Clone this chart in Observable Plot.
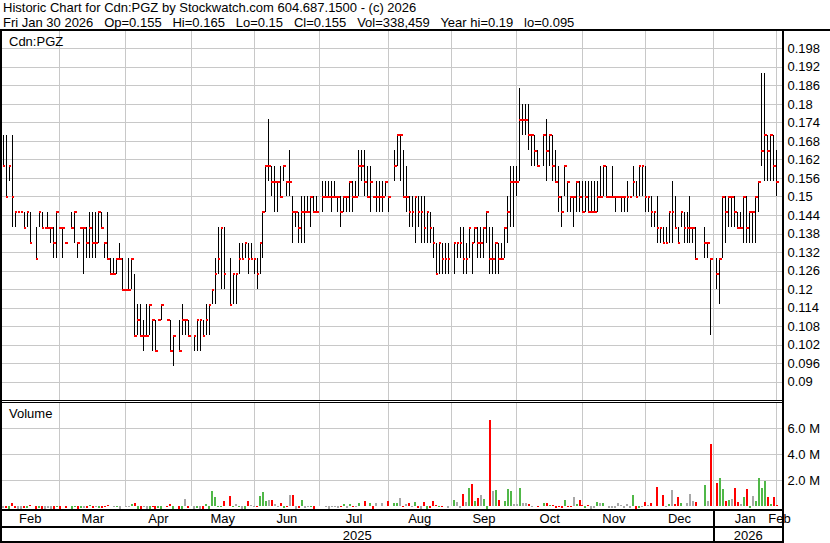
<!DOCTYPE html>
<html><head><meta charset="utf-8">
<script src="https://cdn.jsdelivr.net/npm/d3@7"></script>
<script src="https://cdn.jsdelivr.net/npm/@observablehq/plot@0.6"></script>
<style>
body{margin:0;background:#fff;}
#chart{position:relative;width:830px;height:543px;overflow:hidden;font-family:"Liberation Sans",Arial,sans-serif;color:#000;background:#fff;}
.t{position:absolute;font-size:13px;white-space:pre;line-height:15px;}
.ln{position:absolute;background:#000;}
#chart svg{position:absolute;left:0;}
</style></head><body><div id="chart"></div>
<script>
// One slot per weekday, Mon Feb 3 2025 .. Fri Jan 30 2026 (260 slots); null = holiday / no trade
const high = [
.17,.17,.16,.17,.145,.145,.145,.145,.145,.145,
null,.14,.145,.145,.14,.145,.14,.14,.145,.14,
.14,.135,null,.145,.145,.135,.14,.14,.14,.145,
.145,.145,.145,.145,.135,.145,.13,.13,.13,.135,
.13,.12,.13,.13,.125,.115,.115,.11,.115,.115,
.11,.11,.11,.115,null,.11,.11,.105,null,.11,
.115,.11,.11,null,.105,.11,.11,.11,.115,.115,
.12,.13,.14,.14,.14,null,.13,.125,.125,.135,
.135,.135,.135,.135,.13,.13,.135,.145,.16,.175,
.16,.16,.155,.16,.16,.155,.165,.15,.145,.145,
.15,.15,.15,.15,.15,.15,null,.155,.155,.155,
.155,.155,.15,.15,.15,.15,.155,.155,.155,.165,
.165,.165,.16,.16,.15,.155,.155,.155,.155,.15,
null,.165,.17,.17,.165,.16,.15,.15,.15,.15,
.15,.15,.145,.145,.14,.135,.135,.135,.135,.135,
null,.135,.135,.14,.14,.135,.14,.135,.14,.14,
.14,.14,.145,.14,.14,.135,.135,.135,.14,.15,
.16,.16,.16,.185,.18,.18,.18,.17,.17,.165,
null,.17,.175,.17,.17,.165,.16,.15,.16,.155,
.15,.15,.155,.155,.155,.155,.155,.155,.155,.155,
.16,.16,.16,.15,.16,.15,.15,.15,.15,.155,
.15,.16,.155,.16,.16,.16,.15,.15,.145,.15,
.14,.14,.14,.145,.155,.15,.14,.145,.145,.145,
.15,.14,.14,null,null,.14,.135,.13,null,.13,
.13,.15,.15,.15,.15,.15,.145,.145,.15,.15,
.145,.145,.15,.155,.19,.19,.17,.17,.17,.165];
const low = [
.16,.15,.155,.14,.14,.145,.145,.14,.14,.135,
null,.13,.14,.14,.14,.14,.135,.13,.13,.14,
.13,.135,null,.14,.135,.13,.14,.125,.13,.13,
.13,.13,.135,.14,.13,.13,.125,.125,.125,.13,
.12,.12,.12,.12,.105,.105,.105,.1,.105,.105,
.1,.1,.11,.11,null,.11,.1,.095,null,.1,
.105,.105,.105,null,.1,.1,.1,.105,.105,.105,
.115,.115,.125,.12,.12,null,.115,.115,.115,.125,
.13,.13,.125,.13,.125,.12,.125,.13,.145,.155,
.15,.145,.145,.15,.155,.15,.15,.135,.14,.135,
.135,.135,.145,.14,.145,.145,null,.145,.15,.15,
.145,.15,.145,.14,.145,.145,.145,.145,.15,.15,
.155,.15,.15,.145,.15,.145,.145,.145,.15,.145,
null,.155,.16,.155,.15,.145,.14,.14,.135,.14,
.135,.135,.135,.135,.13,.125,.125,.125,.125,.125,
null,.125,.13,.13,.125,.125,.13,.125,.135,.13,
.13,.13,.135,.125,.125,.125,.125,.13,.13,.135,
.14,.14,.15,.155,.17,.17,.165,.16,.16,.16,
null,.16,.155,.16,.155,.155,.145,.14,.15,.145,
.145,.14,.145,.145,.145,.145,.145,.145,.145,.145,
.15,.15,.15,.15,.15,.145,.15,.145,.145,.145,
.15,.15,.15,.15,.15,.145,.145,.14,.14,.135,
.135,.135,.135,.135,.135,.14,.135,.14,.135,.135,
.135,.135,.13,null,null,.13,.13,.105,null,.12,
.115,.13,.135,.14,.14,.14,.14,.14,.135,.135,
.135,.135,.135,.145,.16,.155,.155,.155,.155,.15];
const close = [
.16,.15,.16,.15,.145,.145,.145,.14,.145,.135,
null,.13,.145,.14,.14,.14,.14,.135,.145,.14,
.14,.135,null,.14,.145,.135,.14,.14,.135,.14,
.135,.135,.145,.14,.135,.13,.125,.125,.13,.13,
.12,.12,.12,.13,.105,.11,.105,.105,.105,.115,
.11,.1,.11,.115,null,.11,.1,.105,null,.1,
.11,.11,.105,null,.105,.11,.11,.105,.11,.115,
.12,.125,.13,.14,.125,null,.115,.125,.125,.13,
.13,.135,.13,.13,.13,.125,.135,.145,.16,.16,
.155,.155,.155,.15,.16,.155,.155,.145,.145,.14,
.145,.145,.145,.15,.145,.145,null,.15,.15,.15,
.15,.15,.15,.145,.15,.15,.155,.15,.15,.16,
.16,.155,.15,.155,.15,.15,.15,.15,.155,.15,
null,.16,.17,.17,.15,.15,.145,.145,.15,.145,
.145,.14,.145,.14,.135,.125,.135,.13,.13,.13,
null,.135,.135,.135,.13,.13,.14,.135,.14,.135,
.135,.14,.145,.13,.13,.135,.13,.13,.14,.145,
.155,.155,.155,.175,.175,.175,.17,.17,.165,.16,
null,.17,.165,.17,.16,.155,.15,.145,.16,.155,
.15,.15,.155,.15,.145,.15,.145,.145,.145,.15,
.15,.16,.15,.15,.15,.15,.15,.15,.15,.15,
.15,.155,.15,.16,.16,.15,.15,.145,.145,.14,
.14,.135,.135,.145,.145,.14,.135,.145,.14,.14,
.14,.14,.13,null,null,.135,.135,.13,null,.125,
.13,.15,.145,.15,.15,.145,.14,.14,.15,.14,
.145,.145,.15,.155,.165,.17,.165,.17,.16,.155];
// volume in thousands of shares
const volume = [
100,110,60,480,110,50,60,70,80,360,
null,40,70,50,50,80,60,60,150,60,
220,80,null,60,210,60,100,90,110,350,
100,160,80,100,210,320,260,200,160,60,
260,160,210,380,470,60,30,200,60,50,
200,60,110,30,null,200,400,60,null,60,
60,800,110,null,30,130,60,60,370,60,
1400,950,200,200,600,null,1050,200,400,200,
30,60,650,350,200,200,1050,1350,650,750,
750,380,200,480,100,200,1100,1100,60,100,
700,100,200,150,50,270,null,270,200,60,
200,200,100,200,400,100,400,200,200,500,
270,650,270,500,30,500,270,500,270,650,
null,500,500,870,200,400,500,200,570,100,
30,570,60,100,650,350,200,200,270,100,
null,720,570,100,1200,570,1650,1950,650,870,
1100,800,60,6900,1420,1500,720,270,650,1570,
1420,400,400,1650,500,500,400,200,270,200,
null,500,500,350,350,100,200,100,720,200,
200,950,400,720,350,100,350,30,100,570,
500,500,270,100,100,100,500,350,100,400,
100,1100,40,100,200,570,350,500,270,1720,
270,1100,200,400,1500,400,950,500,270,500,
1200,650,570,null,null,1900,650,5050,null,2000,
2400,1570,650,720,800,1650,570,400,950,1570,
100,1050,650,2400,1650,2200,950,400,950,338];

const priceTicks = [0.09,0.096,0.102,0.108,0.114,0.12,0.126,0.132,0.138,0.144,0.15,0.156,0.162,0.168,0.174,0.18,0.186,0.192,0.198];
const volumeTicks = [2e6, 4e6, 6e6];
const monthNames = ["Feb","Mar","Apr","May","Jun","Jul","Aug","Sep","Oct","Nov","Dec","Jan","Feb"];
const monthStarts = [19, 41, 63, 84, 106, 129, 150, 172, 194, 215, 238, 259]; // weekday slot of each month boundary
const yearNames = ["2025","2026"];
const yearStarts = [238];
const headerLine1 = "Historic Chart for Cdn:PGZ by Stockwatch.com 604.687.1500 - (c) 2026";
const headerLine2 = "Fri Jan 30 2026   Op=0.155   Hi=0.165   Lo=0.15   Cl=0.155   Vol=338,459   Year hi=0.19   lo=0.095";
const symbol = "Cdn:PGZ";

const FONT = '"Liberation Sans", Arial, sans-serif';
const GRID = "#c8c8c8";
const UP = "#50b848", DOWN = "#ff0000", FLAT = "#a8a8a8";
const xDomain = [-0.904, 260.98];

const rows = [];
let prev = null;
for (let k = 0; k < high.length; k++) {
  if (high[k] == null) continue;
  const c = close[k];
  const d = prev == null ? 0 : Math.sign(Math.round((c - prev) * 1000));
  rows.push({k, high: high[k], low: low[k], close: c, vol: volume[k] * 1000,
             color: d > 0 ? UP : d < 0 ? DOWN : FLAT});
  prev = c;
}
const bounds = [xDomain[0], ...monthStarts, xDomain[1]];
const monthLabels = monthNames.map((m, i) => ({label: m, pos: (bounds[i] + bounds[i + 1]) / 2}));
const yb = [xDomain[0], ...yearStarts, xDomain[1]];
const yearLabels = yearNames.map((y, i) => ({label: y, pos: (yb[i] + yb[i + 1]) / 2}));

const common = {
  width: 830, marginLeft: 0, marginRight: 48,
  x: {domain: xDomain, axis: null},
  style: {fontFamily: FONT, fontSize: "13px", background: "transparent", overflow: "visible", color: "#000"}
};

const chart = document.getElementById("chart");

const price = Plot.plot({
  ...common, height: 369, marginTop: 0, marginBottom: 0,
  y: {domain: [0.08406, 0.203605]},
  marks: [
    Plot.ruleY(priceTicks, {stroke: GRID, strokeWidth: 1, shapeRendering: "crispEdges"}),
    Plot.ruleX(monthStarts, {stroke: GRID, strokeWidth: 1, shapeRendering: "crispEdges"}),
    Plot.ruleX(rows, {x: "k", y1: "low", y2: "high", stroke: "#000", strokeWidth: 1, shapeRendering: "crispEdges"}),
    Plot.ruleY(rows, {y: "close", x1: "k", x2: d => d.k + 0.9, stroke: "#ff0000", strokeWidth: 2, shapeRendering: "crispEdges"}),
    Plot.axisY(priceTicks, {anchor: "right", tickSize: 0, tickPadding: 5, label: null, fontSize: 13,
      tickFormat: d => String(+d.toFixed(3))})
  ]
});
price.style.top = "31px";
chart.appendChild(price);

const vol = Plot.plot({
  ...common, height: 107, marginTop: 0, marginBottom: 3.7,
  y: {domain: [0, 7.946e6]},
  color: {type: "identity"},
  marks: [
    Plot.ruleY(volumeTicks, {stroke: GRID, strokeWidth: 1, shapeRendering: "crispEdges"}),
    Plot.ruleX(monthStarts, {stroke: GRID, strokeWidth: 1, shapeRendering: "crispEdges"}),
    Plot.ruleX(rows, {x: "k", y1: 0, y2: "vol", stroke: "color", strokeWidth: 2, insetBottom: -3, shapeRendering: "crispEdges"}),
    Plot.axisY(volumeTicks, {anchor: "right", tickSize: 0, tickPadding: 5, label: null, fontSize: 13,
      tickFormat: d => (d / 1e6).toFixed(1) + " M"})
  ]
});
vol.style.top = "403px";
chart.appendChild(vol);

const axis = Plot.plot({
  ...common, height: 33, marginTop: 0, marginBottom: 0,
  marks: [
    Plot.ruleX(yearStarts, {stroke: "#000", strokeWidth: 2, shapeRendering: "crispEdges"}),
    Plot.text(monthLabels, {x: "pos", text: "label", frameAnchor: "top", lineAnchor: "middle", dy: 8.5, fontSize: 13, fill: "#000"}),
    Plot.text(yearLabels, {x: "pos", text: "label", frameAnchor: "top", lineAnchor: "middle", dy: 25, fontSize: 13, fill: "#000"})
  ]
});
axis.style.top = "510px";
chart.appendChild(axis);

function txt(s, left, top) {
  const d = document.createElement("div");
  d.className = "t"; d.textContent = s;
  d.style.left = left + "px"; d.style.top = top + "px";
  chart.appendChild(d);
}
txt(headerLine1, 3, 0);
txt(headerLine2, 3, 14.5);
txt(symbol, 9, 34);
txt("Volume", 9, 406);

function line(l, t, w, h) {
  const d = document.createElement("div");
  d.className = "ln";
  Object.assign(d.style, {left: l + "px", top: t + "px", width: w + "px", height: h + "px"});
  chart.appendChild(d);
}
line(0, 29, 830, 2);     // header rule
line(0, 29, 2, 514);     // left border
line(782, 29, 2, 514);   // right border
line(0, 400, 784, 1);    // panel separator
line(0, 402, 784, 1);
line(0, 509, 784, 2);    // x axis
line(0, 526, 784, 2);    // year row
line(0, 541, 784, 2);    // bottom
</script></body></html>
